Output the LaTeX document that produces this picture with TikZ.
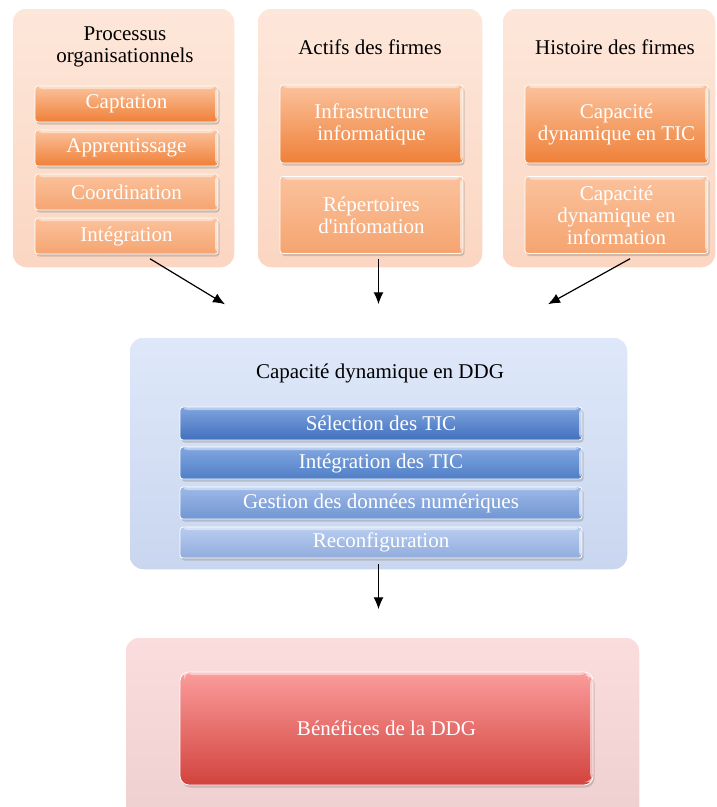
\documentclass[tikz,border=0pt]{standalone}
\usepackage{fontspec}
\setmainfont{Liberation Serif}[Ligatures=TeXOff]
\usetikzlibrary{arrows.meta}
\usetikzlibrary{shadows}

\definecolor{peachTop}{HTML}{FDE7DA}
\definecolor{peachBot}{HTML}{FBD6C2}
\definecolor{orTop}{HTML}{FBC29C}
\definecolor{orBot}{HTML}{EF8038}
\definecolor{orBotLight}{HTML}{F5A470}
\definecolor{bluePanTop}{HTML}{DFE8FA}
\definecolor{bluePanBot}{HTML}{C9D6EF}
\definecolor{selTop}{HTML}{7EA4DE}
\definecolor{selBot}{HTML}{4270BE}
\definecolor{intTop}{HTML}{82A7E0}
\definecolor{intBot}{HTML}{4F7EC6}
\definecolor{gesTop}{HTML}{9DB8E7}
\definecolor{gesBot}{HTML}{7096D2}
\definecolor{recTop}{HTML}{B8CCEF}
\definecolor{recBot}{HTML}{91ACDD}
\definecolor{pinkTop}{HTML}{FCDDDD}
\definecolor{pinkBot}{HTML}{EECFCF}
\definecolor{redTop}{HTML}{FB9C9C}
\definecolor{redBot}{HTML}{D2433D}

\tikzset{
  panel/.style={rounded corners=14pt, draw=white, line width=1.5pt, inner sep=0pt},
  orpanel/.style={panel, top color=peachTop, bottom color=peachBot},
  bluepanel/.style={panel, top color=bluePanTop, bottom color=bluePanBot},
  pinkpanel/.style={panel, top color=pinkTop, bottom color=pinkBot},
  item/.style={rounded corners=3pt, draw=white, line width=0.8pt, text=white,
    align=center, inner sep=0pt,
    drop shadow={shadow xshift=1.5pt, shadow yshift=-2.5pt, opacity=0.35},
    path picture={\fill[white,opacity=0.45]
      ([xshift=4pt]path picture bounding box.north west) rectangle
      ([xshift=-4pt,yshift=-3pt]path picture bounding box.north east);
      \fill[white,opacity=0.6]
      ([xshift=-3pt,yshift=-3pt]path picture bounding box.north east) rectangle
      ([yshift=3pt]path picture bounding box.south east);}},
  oritem/.style={item, top color=orTop, bottom color=orBot},
  oritemlight/.style={item, top color=orTop, bottom color=orBotLight},
  flow/.style={-{Latex[length=12pt,width=10pt]}, line width=1.2pt}
}

\begin{document}
\begin{tikzpicture}[x=1pt, y=-1pt, font=\fontsize{21}{22}\selectfont]
    \useasboundingbox (0,0) rectangle (717,807);
    \clip (0,0) rectangle (717,807);

    % top row
    \node[orpanel, minimum width=223pt, minimum height=260pt] (proc) at (123.5,138) {};
    \node[orpanel, minimum width=226pt, minimum height=260pt] (actifs) at (370,138) {};
    \node[orpanel, minimum width=214pt, minimum height=260pt] (histoire) at (609,138) {};
    \node[align=center] (proct) at (125,47) {Processus\\organisationnels};
    \node (actift) at (370,47) {Actifs des firmes};
    \node (histt) at (615,47) {Histoire des firmes};

    \node[oritem, minimum width=183pt, minimum height=36pt] (capt) at (126.5,104) {Captation};
    \node[oritem, minimum width=183pt, minimum height=36pt] (appr) at (126.5,148) {Apprentissage};
    \node[oritemlight, minimum width=183pt, minimum height=36pt] (coord) at (126.5,192) {Coordination};
    \node[oritemlight, minimum width=183pt, minimum height=36pt] (integ) at (126.5,236) {Intégration};

    \node[oritem, minimum width=183pt, minimum height=78pt] (infra) at (371.5,124) {Infrastructure\\informatique};
    \node[oritemlight, minimum width=183pt, minimum height=77pt] (repert) at (371.5,215) {Répertoires\\d'infomation};

    \node[oritem, minimum width=183pt, minimum height=78pt] (captic) at (616.5,124) {Capacité\\dynamique en TIC};
    \node[oritemlight, minimum width=183pt, minimum height=77pt] (capinfo) at (616.5,215) {Capacité\\dynamique en\\information};

    % middle
    \node[bluepanel, minimum width=499pt, minimum height=233pt] (capddg) at (378.5,453.5) {};
    \node (capddgt) at (380,373) {Capacité dynamique en DDG};
    \node[item, top color=selTop, bottom color=selBot, minimum width=402pt, minimum height=33pt] (sel) at (381,423.5) {Sélection des TIC};
    \node[item, top color=intTop, bottom color=intBot, minimum width=402pt, minimum height=32pt] (integtic) at (381,463) {Intégration des TIC};
    \node[item, top color=gesTop, bottom color=gesBot, minimum width=402pt, minimum height=32pt] (gestion) at (381,503) {Gestion des données numériques};
    \node[item, top color=recTop, bottom color=recBot, minimum width=402pt, minimum height=31pt] (reconf) at (381,542.5) {Reconfiguration};

    % bottom
    \node[pinkpanel, minimum width=515pt, minimum height=193pt] (benef) at (382.5,733.5) {};
    \node[item, rounded corners=9pt, top color=redTop, bottom color=redBot, minimum width=413pt, minimum height=113pt] (benefbox) at (386.5,728.5) {Bénéfices de la DDG};

    % arrows
    \coordinate (b1) at (capddg.south |- benef.north);
    \draw[flow] ([xshift=26.5pt,yshift=10pt]proc.south) -- ([xshift=-153.5pt,yshift=32pt]capddg.north);
    \draw[flow] ([yshift=10pt]actifs.south -| capddg.north) -- ([yshift=32pt]capddg.north);
    \draw[flow] ([xshift=21pt,yshift=10pt]histoire.south) -- ([xshift=169.5pt,yshift=32pt]capddg.north);
    \draw[flow] ([yshift=7pt]capddg.south) -- ([yshift=27pt]b1);
\end{tikzpicture}
\end{document}
